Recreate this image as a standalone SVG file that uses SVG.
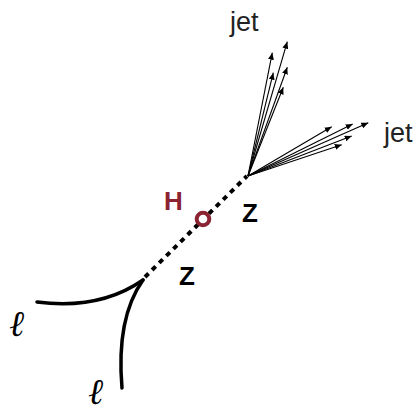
<svg xmlns="http://www.w3.org/2000/svg" width="419" height="414" viewBox="0 0 419 414">
<defs>
<marker id="ah" markerUnits="userSpaceOnUse" markerWidth="8" markerHeight="6" refX="7" refY="3" orient="auto">
<path d="M0,0 L7,3 L0,6 Z" fill="#000"/>
</marker>
<style>
.jet{stroke:#000;stroke-width:1.1;fill:none;marker-end:url(#ah)}
.lep{stroke:#000;stroke-width:3.5;fill:none;stroke-linecap:round}
.lbl{font-family:"Liberation Sans",Arial,sans-serif;font-size:27px;fill:#222}
.z{font-family:"Liberation Sans",Arial,sans-serif;font-size:26px;font-weight:bold;fill:#000}
.ell{font-family:"DejaVu Serif",serif;font-style:italic;font-size:36px;fill:#000}
</style>
</defs>
<rect width="419" height="414" fill="#fff"/>
<g id="connectors">
<line x1="145" y1="277" x2="247" y2="176" stroke="#000" stroke-width="4" stroke-dasharray="5 5"/>
<path class="lep" d="M37,302 Q100,310 143,280"/>
<path class="lep" d="M122,388 Q116,318 143,280"/>
<line class="jet" x1="248" y1="176" x2="287.3" y2="41.7"/>
<line class="jet" x1="248" y1="176" x2="272.3" y2="52.7"/>
<line class="jet" x1="248" y1="176" x2="287.3" y2="67.3"/>
<line class="jet" x1="248" y1="176" x2="273.3" y2="72.7"/>
<line class="jet" x1="248" y1="176" x2="283.3" y2="87.3"/>
<line class="jet" x1="248" y1="176" x2="368.3" y2="122.7"/>
<line class="jet" x1="248" y1="176" x2="352.7" y2="124"/>
<line class="jet" x1="248" y1="176" x2="331.7" y2="126.7"/>
<line class="jet" x1="248" y1="176" x2="351.7" y2="136"/>
<line class="jet" x1="248" y1="176" x2="341.7" y2="144.7"/>
</g>
<g id="higgs">
<circle cx="203" cy="219" r="6.3" fill="#fff" stroke="#8B2332" stroke-width="4"/>
<text x="164" y="210" class="z" style="fill:#8B2332">H</text>
</g>
<g id="z1"><text x="242" y="222" class="z">Z</text></g>
<g id="z2"><text x="179" y="285" class="z">Z</text></g>
<g id="jet1"><text x="230" y="31" class="lbl">jet</text></g>
<g id="jet2"><text x="384" y="142" class="lbl">jet</text></g>
<g id="lep1"><text x="9" y="336" class="ell">ℓ</text></g>
<g id="lep2"><text x="88" y="404" class="ell">ℓ</text></g>
</svg>
